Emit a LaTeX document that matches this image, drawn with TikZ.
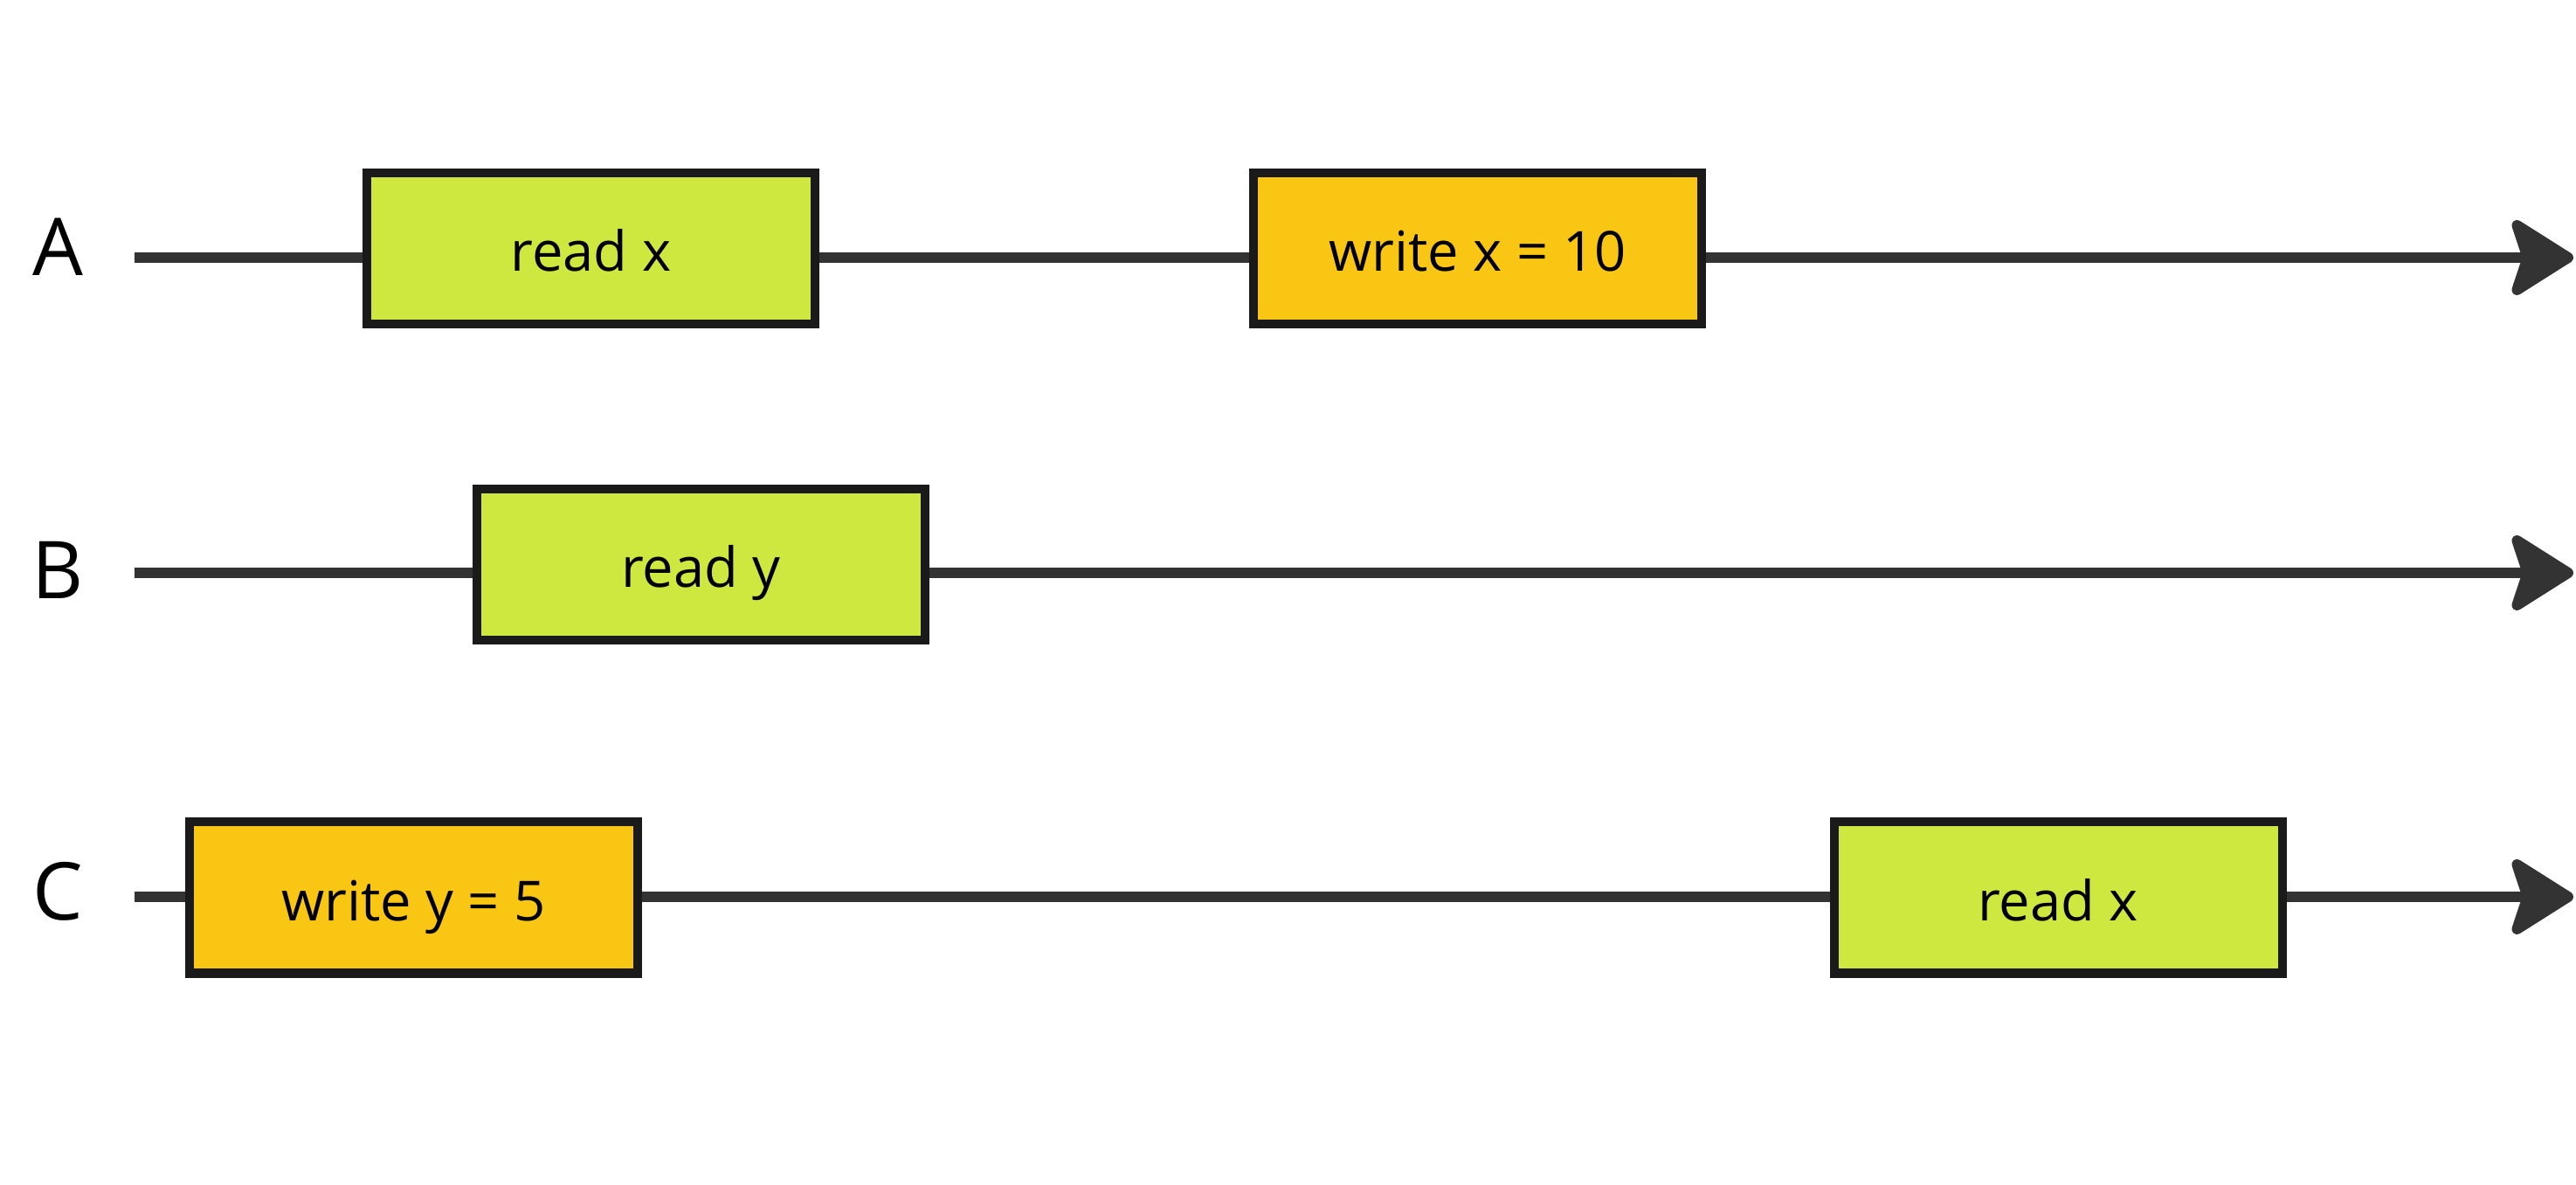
\documentclass[tikz,border=0pt]{standalone}
\usepackage{fontspec}
\setmainfont{Open Sans}
\usetikzlibrary{arrows.meta}
\definecolor{readgreen}{HTML}{CFE83F}
\definecolor{writeorange}{HTML}{F9C613}
\definecolor{boxline}{HTML}{1A1A1A}
\definecolor{axisgray}{HTML}{333333}
\begin{document}
\begin{tikzpicture}[
	timeline/.style = {draw=axisgray, line width=0.12cm, -{Stealth[length=0.8cm, width=1.0cm, inset=0.16cm, round]}},
	op/.style = {rectangle, draw=boxline, line width=0.1cm, minimum width=5.13cm, minimum height=1.73cm, inner sep=0pt,
		font=\fontsize{18}{22}\selectfont, text height=0.52cm, text depth=0pt},
	proc/.style = {font=\fontsize{26}{30}\selectfont, inner sep=0pt}]
	\path[use as bounding box, fill=white] (0,0) rectangle (29.49,13.56);
	% processes
	\node (A) at (0.66, 10.73)	[proc]	{A};
	\node (B) at (0.66,  7.03)	[proc]	{B};
	\node (C) at (0.66,  3.35)	[proc]	{C};
	\coordinate (Astart) at ( 1.54, 10.61);
	\coordinate (Aend)   at (29.46, 10.61);
	\coordinate (Bstart) at ( 1.54,  7.00);
	\coordinate (Bend)   at (29.46,  7.00);
	\coordinate (Cstart) at ( 1.54,  3.29);
	\coordinate (Cend)   at (29.46,  3.29);
	\draw[timeline] (Astart) -- (Aend);
	\draw[timeline] (Bstart) -- (Bend);
	\draw[timeline] (Cstart) -- (Cend);
	% operations
	\node (A1) at ( 6.765, 10.715)	[op, fill = readgreen]	{read x};
	\node (A2) at (16.915, 10.715)	[op, fill = writeorange]	{write x = 10};
	\node (B1) at ( 8.025,  7.095)	[op, fill = readgreen]	{read y};
	\node (C1) at ( 4.735,  3.28)	[op, fill = writeorange]	{write y = 5};
	\node (C2) at (23.56,   3.28)	[op, fill = readgreen]	{read x};
\end{tikzpicture}
\end{document}
